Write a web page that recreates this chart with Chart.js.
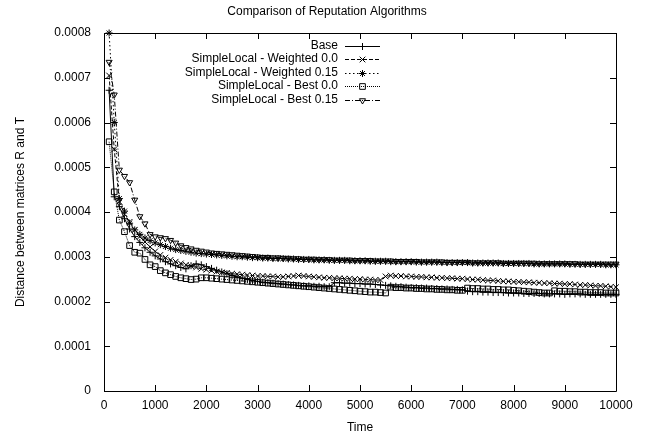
<!DOCTYPE html>
<html>
<head>
<meta charset="utf-8">
<title>Comparison of Reputation Algorithms</title>
<script src="https://cdn.jsdelivr.net/npm/chart.js@4/dist/chart.umd.min.js"></script>
<style>
  html, body { margin: 0; padding: 0; background: #fff; }
  canvas { display: block; }
</style>
</head>
<body>
<canvas id="chart" width="648" height="436"></canvas>
<script>
// values are read in units of 1e-4
const UNIT = 1e-4;

const times = [
  100, 200, 300, 400, 500, 600, 700, 800, 900, 1000,
  1100, 1200, 1300, 1400, 1500, 1600, 1700, 1800, 1900, 2000,
  2100, 2200, 2300, 2400, 2500, 2600, 2700, 2800, 2900, 3000,
  3100, 3200, 3300, 3400, 3500, 3600, 3700, 3800, 3900, 4000,
  4100, 4200, 4300, 4400, 4500, 4600, 4700, 4800, 4900, 5000,
  5100, 5200, 5300, 5400, 5500, 5600, 5700, 5800, 5900, 6000,
  6100, 6200, 6300, 6400, 6500, 6600, 6700, 6800, 6900, 7000,
  7100, 7200, 7300, 7400, 7500, 7600, 7700, 7800, 7900, 8000,
  8100, 8200, 8300, 8400, 8500, 8600, 8700, 8800, 8900, 9000,
  9100, 9200, 9300, 9400, 9500, 9600, 9700, 9800, 9900, 10000
];

const base = [
  6.72, 4.34, 4.12, 3.85, 3.62, 3.45, 3.32, 3.20, 3.10, 3.02,
  2.95, 2.89, 2.84, 2.80, 2.76, 2.73, 2.80, 2.84, 2.82, 2.78,
  2.74, 2.70, 2.66, 2.62, 2.58, 2.55, 2.52, 2.49, 2.47, 2.45,
  2.43, 2.42, 2.41, 2.40, 2.39, 2.38, 2.37, 2.36, 2.35, 2.35,
  2.34, 2.34, 2.33, 2.33, 2.42, 2.42, 2.41, 2.41, 2.40, 2.40,
  2.39, 2.39, 2.38, 2.37, 2.36, 2.35, 2.34, 2.33, 2.32, 2.31,
  2.31, 2.30, 2.30, 2.29, 2.29, 2.28, 2.28, 2.27, 2.27, 2.26,
  2.23, 2.22, 2.22, 2.21, 2.21, 2.20, 2.20, 2.20, 2.19, 2.19,
  2.19, 2.18, 2.18, 2.18, 2.18, 2.17, 2.17, 2.17, 2.17, 2.16,
  2.17, 2.17, 2.17, 2.16, 2.16, 2.16, 2.16, 2.16, 2.16, 2.16
];

const weighted00 = [
  7.05, 5.40, 4.23, 3.95, 3.78, 3.60, 3.45, 3.33, 3.22, 3.12,
  3.04, 2.98, 2.93, 2.89, 2.85, 2.82, 2.79, 2.76, 2.73, 2.71,
  2.69, 2.67, 2.65, 2.64, 2.62, 2.61, 2.60, 2.59, 2.58, 2.57,
  2.57, 2.56, 2.56, 2.55, 2.55, 2.56, 2.57, 2.58, 2.57, 2.56,
  2.55, 2.54, 2.53, 2.53, 2.52, 2.52, 2.51, 2.51, 2.50, 2.50,
  2.49, 2.49, 2.48, 2.48, 2.56, 2.58, 2.57, 2.57, 2.56, 2.56,
  2.55, 2.55, 2.54, 2.54, 2.53, 2.53, 2.52, 2.52, 2.51, 2.51,
  2.50, 2.49, 2.49, 2.48, 2.47, 2.47, 2.46, 2.45, 2.45, 2.44,
  2.44, 2.43, 2.43, 2.42, 2.42, 2.41, 2.41, 2.40, 2.40, 2.39,
  2.39, 2.38, 2.37, 2.37, 2.36, 2.35, 2.35, 2.34, 2.33, 2.32
];

const weighted015 = [
  8.00, 6.00, 4.30, 4.02, 3.75, 3.60, 3.50, 3.42, 3.36, 3.31,
  3.27, 3.23, 3.19, 3.16, 3.14, 3.12, 3.10, 3.08, 3.07, 3.06,
  3.05, 3.04, 3.03, 3.02, 3.01, 3.00, 3.00, 2.99, 2.98, 2.98,
  2.97, 2.97, 2.96, 2.96, 2.96, 2.95, 2.95, 2.94, 2.94, 2.94,
  2.93, 2.93, 2.93, 2.92, 2.92, 2.92, 2.92, 2.91, 2.91, 2.91,
  2.91, 2.90, 2.90, 2.90, 2.90, 2.89, 2.89, 2.89, 2.89, 2.89,
  2.88, 2.88, 2.88, 2.88, 2.88, 2.87, 2.87, 2.87, 2.87, 2.87,
  2.87, 2.86, 2.86, 2.86, 2.86, 2.86, 2.86, 2.85, 2.85, 2.85,
  2.85, 2.85, 2.85, 2.84, 2.84, 2.84, 2.84, 2.84, 2.84, 2.84,
  2.83, 2.83, 2.83, 2.83, 2.83, 2.83, 2.83, 2.82, 2.82, 2.82
];

const best00 = [
  5.57, 4.45, 3.82, 3.56, 3.25, 3.10, 3.08, 2.94, 2.82, 2.78,
  2.69, 2.64, 2.60, 2.56, 2.53, 2.51, 2.49, 2.50, 2.53, 2.53,
  2.52, 2.51, 2.50, 2.49, 2.48, 2.47, 2.46, 2.45, 2.44, 2.43,
  2.42, 2.41, 2.40, 2.39, 2.38, 2.37, 2.36, 2.35, 2.34, 2.33,
  2.32, 2.31, 2.30, 2.29, 2.28, 2.27, 2.26, 2.25, 2.24, 2.23,
  2.22, 2.21, 2.21, 2.20, 2.19, 2.32, 2.31, 2.31, 2.30, 2.30,
  2.29, 2.29, 2.28, 2.28, 2.27, 2.27, 2.26, 2.26, 2.25, 2.25,
  2.30, 2.29, 2.29, 2.28, 2.28, 2.27, 2.27, 2.26, 2.26, 2.25,
  2.24, 2.23, 2.22, 2.21, 2.20, 2.19, 2.19, 2.24, 2.23, 2.23,
  2.22, 2.22, 2.21, 2.21, 2.20, 2.20, 2.20, 2.19, 2.19, 2.19
];

const best015 = [
  7.35, 6.62, 4.94, 4.80, 4.66, 4.27, 3.90, 3.74, 3.50, 3.45,
  3.43, 3.41, 3.37, 3.31, 3.25, 3.21, 3.18, 3.15, 3.13, 3.11,
  3.09, 3.08, 3.07, 3.06, 3.05, 3.04, 3.03, 3.02, 3.01, 3.00,
  2.99, 2.99, 2.98, 2.98, 2.97, 2.97, 2.96, 2.96, 2.95, 2.95,
  2.95, 2.94, 2.94, 2.94, 2.93, 2.93, 2.93, 2.93, 2.92, 2.92,
  2.92, 2.92, 2.91, 2.91, 2.91, 2.91, 2.90, 2.90, 2.90, 2.90,
  2.90, 2.89, 2.89, 2.89, 2.89, 2.89, 2.88, 2.88, 2.88, 2.88,
  2.88, 2.87, 2.87, 2.87, 2.87, 2.87, 2.87, 2.86, 2.86, 2.86,
  2.86, 2.86, 2.86, 2.86, 2.85, 2.85, 2.85, 2.85, 2.85, 2.85,
  2.85, 2.85, 2.84, 2.84, 2.84, 2.84, 2.84, 2.84, 2.84, 2.84
];

const seriesNames = [
  'Base',
  'SimpleLocal - Weighted 0.0',
  'SimpleLocal - Weighted 0.15',
  'SimpleLocal - Best 0.0',
  'SimpleLocal - Best 0.15'
];
const seriesValues = [base, weighted00, weighted015, best00, best015];

const xTicks = [0, 1000, 2000, 3000, 4000, 5000, 6000, 7000, 8000, 9000, 10000];
const yTicks = [0, 0.0001, 0.0002, 0.0003, 0.0004, 0.0005, 0.0006, 0.0007, 0.0008];

// gnuplot-ish line/point styles
const styles = [
  { dash: [], point: 'cross', r: 3.5, rot: 0 },
  { dash: [4, 2], point: 'crossRot', r: 4, rot: 0 },
  { dash: [1.5, 2.5], point: 'star', r: 3.5, rot: 0 },
  { dash: [1, 1], point: 'rect', r: 4, rot: 0 },
  { dash: [5, 2, 1, 2], point: 'triangle', r: 3.5, rot: 180 }
];

const FONT = '"Liberation Sans", Arial, Helvetica, sans-serif';
Chart.defaults.font.family = FONT;
Chart.defaults.font.size = 12;
Chart.defaults.color = '#000';

const datasets = seriesValues.map((vals, i) => ({
  label: seriesNames[i],
  data: times.map((t, k) => ({ x: t, y: vals[k] * UNIT })),
  borderColor: '#000',
  backgroundColor: 'rgba(0,0,0,0)',
  borderWidth: 1,
  borderDash: styles[i].dash,
  pointStyle: styles[i].point,
  pointRadius: styles[i].r,
  pointRotation: styles[i].rot,
  pointBorderWidth: 1,
  pointBorderColor: '#000',
  pointBackgroundColor: 'rgba(0,0,0,0)',
  tension: 0,
  clip: 6,
  order: seriesNames.length - i
}));

// frame with inward ticks on all four sides, like gnuplot
const frame = {
  id: 'frame',
  afterDatasetsDraw(chart) {
    const { ctx, chartArea: a, scales } = chart;
    const L = 6;
    ctx.save();
    ctx.strokeStyle = '#000';
    ctx.lineWidth = 1;
    ctx.setLineDash([]);
    ctx.beginPath();
    ctx.rect(a.left + 0.5, a.top + 0.5, a.right - a.left, a.bottom - a.top);
    scales.x.ticks.forEach(t => {
      const px = Math.round(scales.x.getPixelForValue(t.value)) + 0.5;
      ctx.moveTo(px, a.bottom); ctx.lineTo(px, a.bottom - L);
      ctx.moveTo(px, a.top); ctx.lineTo(px, a.top + L);
    });
    scales.y.ticks.forEach(t => {
      const py = Math.round(scales.y.getPixelForValue(t.value)) + 0.5;
      ctx.moveTo(a.left, py); ctx.lineTo(a.left + L, py);
      ctx.moveTo(a.right, py); ctx.lineTo(a.right - L, py);
    });
    ctx.stroke();
    ctx.restore();
  }
};

// key: text right aligned, then line sample with its point
const key = {
  id: 'key',
  afterDatasetsDraw(chart) {
    const { ctx } = chart;
    const textRight = 338, x0 = 345, x1 = 380, top = 45.5, row = 13.5;
    ctx.save();
    ctx.font = '12px ' + FONT;
    ctx.textAlign = 'right';
    ctx.textBaseline = 'middle';
    chart.data.datasets.forEach((ds, i) => {
      const yy = top + i * row;
      ctx.fillStyle = '#000';
      ctx.fillText(ds.label, textRight, yy);
      ctx.strokeStyle = '#000';
      ctx.lineWidth = 1;
      ctx.setLineDash(ds.borderDash);
      ctx.beginPath();
      ctx.moveTo(x0, Math.round(yy) + 0.5);
      ctx.lineTo(x1, Math.round(yy) + 0.5);
      ctx.stroke();
      ctx.setLineDash([]);
      ctx.fillStyle = 'rgba(0,0,0,0)';
      Chart.helpers.drawPoint(ctx, {
        pointStyle: ds.pointStyle, radius: ds.pointRadius,
        rotation: ds.pointRotation, borderWidth: 1
      }, (x0 + x1) / 2, Math.round(yy) + 0.5);
    });
    // title
    ctx.fillStyle = '#000';
    ctx.textAlign = 'center';
    ctx.fillText('Comparison of Reputation Algorithms', 327, 12);
    ctx.restore();
  }
};

new Chart(document.getElementById('chart'), {
  type: 'line',
  data: { datasets },
  plugins: [frame, key],
  options: {
    responsive: false,
    animation: false,
    layout: { padding: { top: 33, right: 32, left: 0, bottom: 0 } },
    plugins: { legend: { display: false }, tooltip: { enabled: false }, title: { display: false } },
    scales: {
      x: {
        type: 'linear',
        min: 0,
        max: 10000,
        afterBuildTicks: s => { s.ticks = xTicks.map(v => ({ value: v })); },
        afterFit: s => { s.height = 45; },
        grid: { display: false, drawTicks: false },
        border: { display: false },
        ticks: { padding: 7, maxRotation: 0, callback: v => String(v) },
        title: { display: true, text: 'Time', padding: { top: 0, bottom: 1 } }
      },
      y: {
        type: 'linear',
        min: 0,
        max: 0.0008,
        afterBuildTicks: s => { s.ticks = yTicks.map(v => ({ value: v })); },
        afterFit: s => { s.width = 104; },
        grid: { display: false, drawTicks: false },
        border: { display: false },
        ticks: { padding: 13, callback: v => (v === 0 ? '0' : v.toFixed(4)) },
        title: { display: true, text: 'Distance between matrices R and T', padding: { top: 13, bottom: 0 } }
      }
    }
  }
});
</script>
</body>
</html>
